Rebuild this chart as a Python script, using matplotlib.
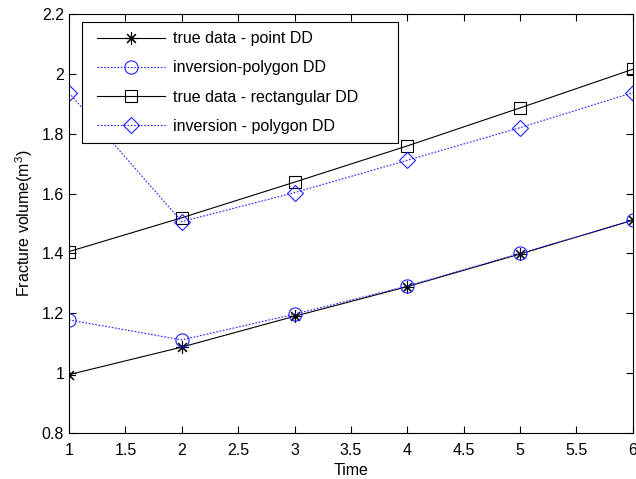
import matplotlib
matplotlib.use("Agg")
import matplotlib.pyplot as plt
from matplotlib.patches import Rectangle

plt.rcParams['font.family'] = ['Liberation Sans', 'DejaVu Sans']
plt.rcParams['mathtext.fontset'] = 'custom'
plt.rcParams['mathtext.rm'] = 'Liberation Sans'

time = [1, 2, 3, 4, 5, 6]
true_point = [0.995, 1.087, 1.190, 1.289, 1.398, 1.511]
inv_point = [1.178, 1.111, 1.197, 1.291, 1.400, 1.510]
true_rect = [1.406, 1.519, 1.638, 1.759, 1.886, 2.015]
inv_rect = [1.936, 1.506, 1.603, 1.711, 1.820, 1.937]

fig = plt.figure(figsize=(6.36, 4.79), dpi=100)
ax = fig.add_axes([0.1085, 0.096, 0.8865, 0.875])

dot = (0, (1.5, 1.5))
blue = '#2020ff'
ax.plot(time, true_point, color='k', lw=0.8, marker=(8, 2, 0), ms=9,
        markeredgewidth=0.8, label='true data - point DD')
ax.plot(time, inv_point, color=blue, lw=0.8, ls=dot, marker='o', ms=9.5,
        mfc='none', markeredgewidth=0.8, label='inversion-polygon DD')
ax.plot(time, true_rect, color='k', lw=0.8, marker='s', ms=8, mfc='none',
        markeredgewidth=0.8, label='true data - rectangular DD')
ax.plot(time, inv_rect, color=blue, lw=0.8, ls=dot, marker='D', ms=8.5,
        mfc='none', markeredgewidth=0.8, label='inversion - polygon DD')

ax.set_xlim(1, 6)
ax.set_ylim(0.8, 2.2)
ax.set_xticks([1, 1.5, 2, 2.5, 3, 3.5, 4, 4.5, 5, 5.5, 6])
ax.set_xticklabels(['1', '1.5', '2', '2.5', '3', '3.5', '4', '4.5', '5', '5.5', '6'])
ax.set_yticks([0.8, 1, 1.2, 1.4, 1.6, 1.8, 2, 2.2])
ax.set_yticklabels(['0.8', '1', '1.2', '1.4', '1.6', '1.8', '2', '2.2'])
ax.tick_params(direction='in', top=True, right=True, labelsize=11.5, length=5, width=0.8)
ax.tick_params(axis='x', pad=7)
for s in ax.spines.values():
    s.set_linewidth(0.8)

ax.set_xlabel('Time', fontsize=11.5, labelpad=4)
ax.set_ylabel('Fracture volume(m$^3$)', fontsize=11.5, labelpad=5)

# legend box is wider than its entries, so draw the frame separately
ax.add_patch(Rectangle((0.023, 0.692), 0.56, 0.289, transform=ax.transAxes,
                       facecolor='white', edgecolor='k', lw=0.8, zorder=4))
leg = ax.legend(loc='upper left', bbox_to_anchor=(0.033, 0.981), borderaxespad=0,
                fontsize=11.5, handlelength=4.25, handletextpad=0.5,
                labelspacing=0.88, borderpad=0.6, frameon=False)
leg.set_zorder(5)

fig.savefig('out.png', dpi=100)
